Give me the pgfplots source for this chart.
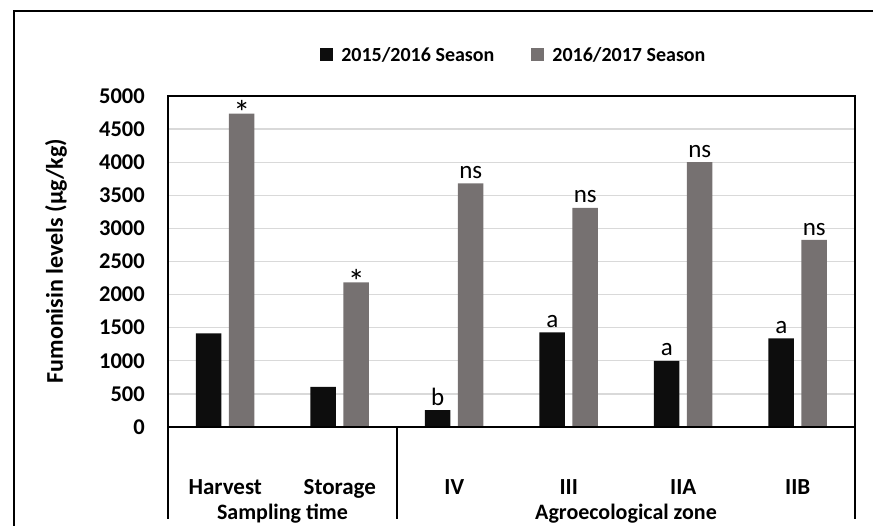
\documentclass[border=0pt]{standalone}
\usepackage{pgfplots}
\pgfplotsset{compat=1.18}
\usepackage{fontspec}
\setmainfont{Carlito}
\definecolor{barblack}{HTML}{0D0D0D}
\definecolor{bargray}{HTML}{767171}
\definecolor{gridgray}{HTML}{D9D9D9}
\newcommand{\sig}{\raisebox{-16pt}[8pt][0pt]{\fontsize{34}{36}\selectfont *}}
\begin{document}
\begin{tikzpicture}
\useasboundingbox (-168pt,-99pt) rectangle (705pt,427pt);
\draw[line width=1.5pt] (-154pt,-100pt) -- (-154pt,416pt) -- (706pt,416pt);
\begin{axis}[
  at={(0pt,0pt)}, anchor=south west,
  scale only axis, width=687pt, height=331pt,
  xmin=-0.5, xmax=5.5, ymin=0, ymax=5000,
  ytick={0,500,...,5000},
  xtick={0,...,5},
  xticklabels={Harvest,Storage,IV,III,IIA,IIB},
  major tick length=0pt,
  ymajorgrids, grid style={gridgray, line width=1.3pt},
  axis line style={black, line width=1.5pt},
  clip=false,
  ybar, bar width=25.5pt,
  /pgf/number format/assume math mode=true,
  /pgf/number format/1000 sep={},
  yticklabel style={font=\fontsize{22.5}{26}\selectfont\bfseries, anchor=east, inner sep=0pt, xshift=-23pt},
  xticklabel style={font=\fontsize{23}{26}\selectfont\bfseries, anchor=base, inner sep=0pt, yshift=-68pt},
  legend columns=2,
  legend style={draw=none, fill=none, at={(axis description cs:0.502,1.124)}, anchor=center,
    font=\fontsize{20}{24}\selectfont\bfseries,
    nodes={inner sep=0pt},
    /tikz/every odd column/.append style={column sep=8pt},
    /tikz/every even column/.append style={column sep=37pt}},
  legend image code/.code={\fill[#1] (0pt,-6.5pt) rectangle (13pt,6.5pt);},
  nodes near coords, point meta=explicit symbolic,
  every node near coord/.append style={font=\fontsize{25}{28}\selectfont, anchor=south, inner sep=0pt, yshift=4.5pt, black},
]
\addplot[fill=barblack, draw=none, bar shift=-16.5pt] coordinates {
  (0,1415) [] (1,605) [] (2,255) [b] (3,1430) [a] (4,1000) [a] (5,1340) [a]};
\addlegendentry{2015/2016 Season}
\addplot[fill=bargray, draw=none, bar shift=16.5pt] coordinates {
  (0,4735) [\sig] (1,2185) [\sig] (2,3680) [ns] (3,3310) [ns] (4,4000) [ns] (5,2825) [ns]};
\addlegendentry{2016/2017 Season}
\draw[line width=1.5pt] (rel axis cs:0,0) rectangle (rel axis cs:1,1);
\draw[line width=1.5pt] (axis cs:-0.5,0) -- ([yshift=-92pt]axis cs:-0.5,0);
\draw[line width=1.5pt] (axis cs:1.5,0) -- ([yshift=-92pt]axis cs:1.5,0);
\draw[line width=1.5pt] (axis cs:5.5,0) -- ([yshift=-92pt]axis cs:5.5,0);
\node[font=\fontsize{22}{24}\selectfont\bfseries, anchor=base] at ([yshift=-93pt]axis cs:0.5,0) {Sampling time};
\node[font=\fontsize{22}{24}\selectfont\bfseries, anchor=base] at ([yshift=-93pt]axis cs:3.5,0) {Agroecological zone};
\end{axis}
\node[rotate=90, font=\fontsize{24}{26}\selectfont\bfseries] at (-112pt,166pt) {Fumonisin levels (µg/kg)};
\end{tikzpicture}
\end{document}
